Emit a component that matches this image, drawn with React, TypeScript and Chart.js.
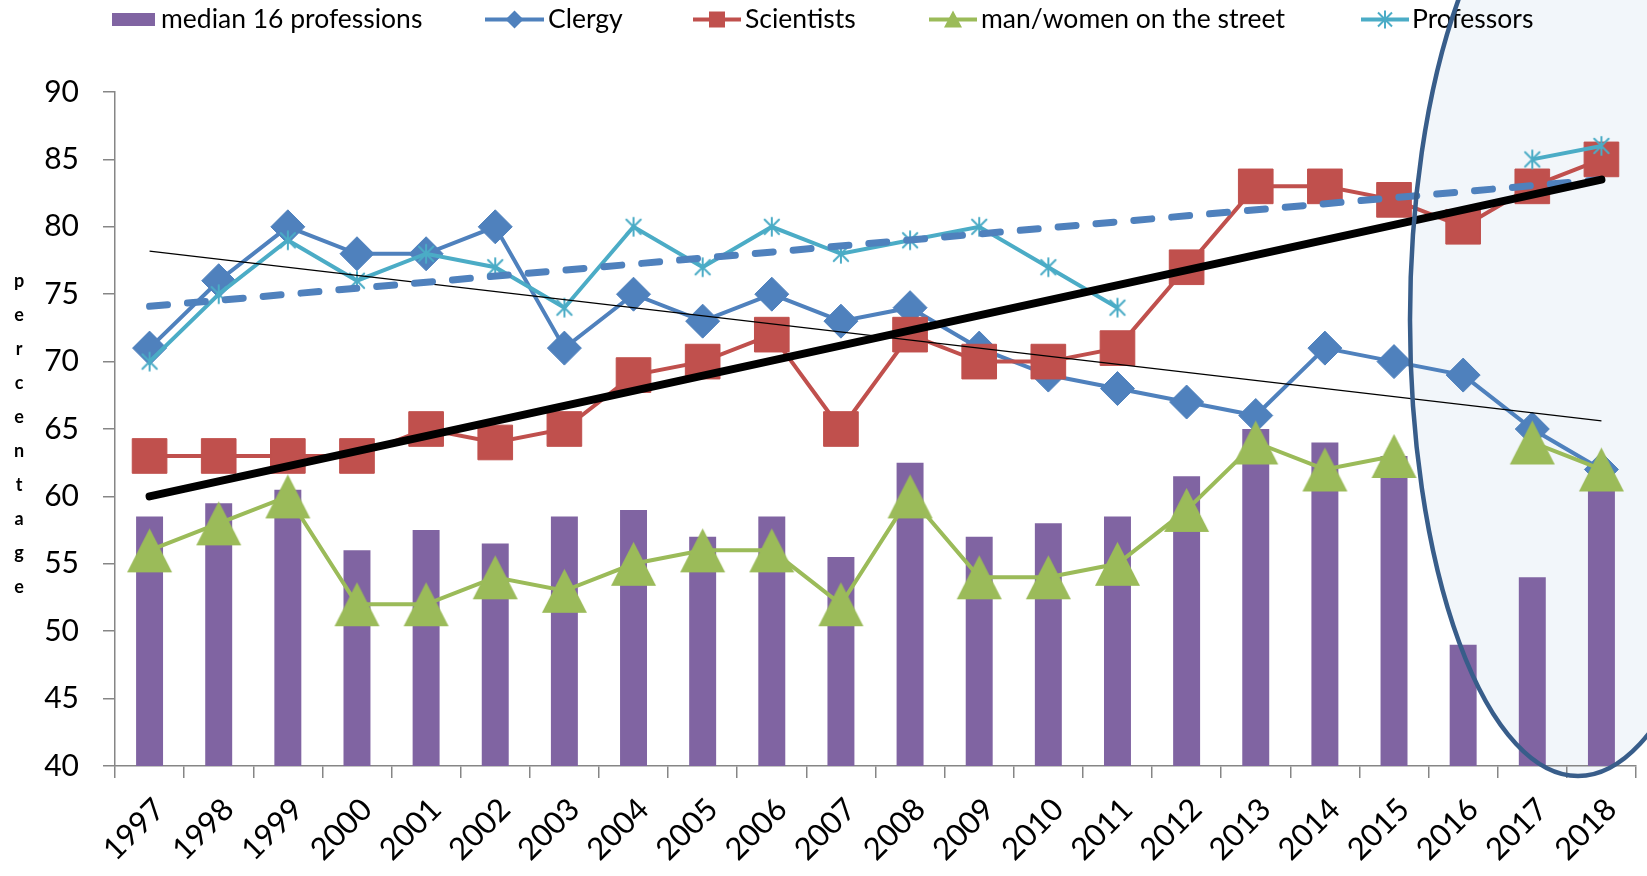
import React, { useEffect, useRef } from 'react';
import { Chart, registerables } from 'chart.js';

Chart.register(...registerables);

// ---------- data ----------
const years = ['1997', '1998', '1999', '2000', '2001', '2002', '2003', '2004', '2005', '2006', '2007',
  '2008', '2009', '2010', '2011', '2012', '2013', '2014', '2015', '2016', '2017', '2018'];

const median16 = [58.5, 59.5, 60.5, 56, 57.5, 56.5, 58.5, 59, 57, 58.5, 55.5, 62.5, 57, 58, 58.5, 61.5, 65, 64, 63, 49, 54, 61];
const clergy = [71, 76, 80, 78, 78, 80, 71, 75, 73, 75, 73, 74, 71, 69, 68, 67, 66, 71, 70, 69, 65, 62];
const scientists = [63, 63, 63, 63, 65, 64, 65, 69, 70, 72, 65, 72, 70, 70, 71, 77, 83, 83, 82, 80, 83, 85];
const street = [56, 58, 60, 52, 52, 54, 53, 55, 56, 56, 52, 60, 54, 54, 55, 59, 64, 62, 63, null, 64, 62];
const professors = [70, 75, 79, 76, 78, 77, 74, 80, 77, 80, 78, 79, 80, 77, 74, null, null, null, null, null, 85, 86];

// trend line end values (first year, last year)
const scientistsTrendEnds = [60.0, 83.5];
const professorsTrendEnds = [74.1, 83.5];
const clergyTrendEnds = [78.2, 65.6];

const seriesNames = ['median 16 professions', 'Clergy', 'Scientists', 'man/women on the street', 'Professors'];
const yAxisTitle = 'percentage';
const yMin = 40;
const yMax = 90;
const yStep = 5;

// ---------- styles ----------
const PURPLE = '#8064A2';
const BLUE = '#4F81BD';
const RED = '#C0504D';
const GREEN = '#9BBB59';
const CYAN = '#4BACC6';
const AXIS = '#868686';
const FONT = 'Lato, "Open Sans", sans-serif';

function endsToSeries(ends: number[]) {
  const arr: (number | null)[] = years.map(() => null);
  arr[0] = ends[0];
  arr[arr.length - 1] = ends[1];
  return arr;
}

function makeTriangle(w: number, h: number, color: string) {
  const c = document.createElement('canvas');
  c.width = w + 2;
  c.height = h + 2;
  const g = c.getContext('2d')!;
  g.fillStyle = color;
  g.beginPath();
  g.moveTo((w + 2) / 2, 1);
  g.lineTo(w + 1, h + 1);
  g.lineTo(1, h + 1);
  g.closePath();
  g.fill();
  return c;
}

function makeStar(s: number, color: string, lw: number) {
  const c = document.createElement('canvas');
  c.width = s + 4;
  c.height = s + 4;
  const g = c.getContext('2d')!;
  g.strokeStyle = color;
  g.lineWidth = lw;
  g.lineCap = 'round';
  const m = (s + 4) / 2;
  const r = s / 2;
  g.beginPath();
  g.moveTo(m, m - r); g.lineTo(m, m + r);
  g.moveTo(m - r * 0.8, m - r * 0.8); g.lineTo(m + r * 0.8, m + r * 0.8);
  g.moveTo(m + r * 0.8, m - r * 0.8); g.lineTo(m - r * 0.8, m + r * 0.8);
  g.stroke();
  return c;
}

export default function App() {
  const ref = useRef<HTMLCanvasElement>(null);

  useEffect(() => {
    const canvas = ref.current!;
    const tri = makeTriangle(45, 44, GREEN);
    const star = makeStar(18, CYAN, 2);

    const ellipse = { cx: 1578, cy: 320, rx: 168, ry: 456 };

    const overlay = {
      id: 'overlay',
      beforeDraw(chart: any) {
        const ctx = chart.ctx;
        ctx.save();
        ctx.fillStyle = '#F2F6FA';
        ctx.beginPath();
        ctx.ellipse(ellipse.cx, ellipse.cy, ellipse.rx, ellipse.ry, 0, 0, Math.PI * 2);
        ctx.fill();
        ctx.restore();
      },
      afterDraw(chart: any) {
        const ctx = chart.ctx;
        ctx.save();
        // legend
        const ly = 19.5;
        ctx.font = `26.5px ${FONT}`;
        ctx.textBaseline = 'middle';
        ctx.fillStyle = PURPLE;
        ctx.fillRect(112, 13, 43, 13);
        ctx.fillStyle = '#000';
        ctx.fillText(seriesNames[0], 161, ly);
        const items = [
          { x0: 485, x1: 544, color: BLUE, kind: 'diamond', tx: 548, label: seriesNames[1] },
          { x0: 693, x1: 741, color: RED, kind: 'square', tx: 745, label: seriesNames[2] },
          { x0: 929, x1: 977, color: GREEN, kind: 'triangle', tx: 981, label: seriesNames[3] },
          { x0: 1361, x1: 1409, color: CYAN, kind: 'star', tx: 1412, label: seriesNames[4] },
        ];
        for (const it of items) {
          ctx.strokeStyle = it.color;
          ctx.fillStyle = it.color;
          ctx.lineWidth = 4;
          ctx.beginPath();
          ctx.moveTo(it.x0, ly);
          ctx.lineTo(it.x1, ly);
          ctx.stroke();
          const mx = (it.x0 + it.x1) / 2;
          ctx.beginPath();
          if (it.kind === 'diamond') {
            ctx.moveTo(mx, ly - 9); ctx.lineTo(mx + 9, ly); ctx.lineTo(mx, ly + 9); ctx.lineTo(mx - 9, ly);
            ctx.closePath(); ctx.fill();
          } else if (it.kind === 'square') {
            ctx.rect(mx - 8, ly - 8, 16, 16); ctx.fill();
          } else if (it.kind === 'triangle') {
            ctx.moveTo(mx, ly - 9); ctx.lineTo(mx + 9, ly + 8); ctx.lineTo(mx - 9, ly + 8);
            ctx.closePath(); ctx.fill();
          } else {
            ctx.lineWidth = 2;
            ctx.moveTo(mx, ly - 9); ctx.lineTo(mx, ly + 9);
            ctx.moveTo(mx - 7, ly - 7); ctx.lineTo(mx + 7, ly + 7);
            ctx.moveTo(mx + 7, ly - 7); ctx.lineTo(mx - 7, ly + 7);
            ctx.stroke();
          }
          ctx.fillStyle = '#000';
          ctx.fillText(it.label, it.tx, ly);
        }
        // vertical axis title, stacked letters
        ctx.font = `bold 18px ${FONT}`;
        ctx.textAlign = 'center';
        ctx.textBaseline = 'middle';
        ctx.fillStyle = '#000';
        const letters = yAxisTitle.split('');
        letters.forEach((ch, i) => ctx.fillText(ch, 19, 281 + i * 34));
        // ellipse outline
        ctx.strokeStyle = '#385D8A';
        ctx.lineWidth = 4.5;
        ctx.beginPath();
        ctx.ellipse(ellipse.cx, ellipse.cy, ellipse.rx, ellipse.ry, 0, 0, Math.PI * 2);
        ctx.stroke();
        ctx.restore();
      },
    };

    const lineBase = {
      type: 'line' as const,
      fill: false,
      tension: 0,
      borderWidth: 4,
      pointBorderWidth: 1,
    };

    const chart = new Chart(canvas, {
      type: 'bar',
      data: {
        labels: years,
        datasets: [
          {
            ...lineBase, label: 'sci trend', data: endsToSeries(scientistsTrendEnds), borderColor: '#000',
            borderWidth: 8, borderCapStyle: 'round', pointRadius: 0, spanGaps: true, order: 0,
          } as any,
          {
            ...lineBase, label: 'prof trend', data: endsToSeries(professorsTrendEnds), borderColor: BLUE,
            borderWidth: 7, borderCapStyle: 'round', borderDash: [18, 20], pointRadius: 0, spanGaps: true, order: 0,
          } as any,
          {
            ...lineBase, label: 'clergy trend', data: endsToSeries(clergyTrendEnds), borderColor: '#000',
            borderWidth: 1.2, pointRadius: 0, spanGaps: true, order: 0,
          } as any,
          {
            ...lineBase, label: seriesNames[4], data: professors, borderColor: CYAN, backgroundColor: CYAN,
            pointStyle: star, pointRadius: 9, order: 1,
          } as any,
          {
            ...lineBase, label: seriesNames[3], data: street, borderColor: GREEN, backgroundColor: GREEN,
            pointStyle: tri, pointRadius: 22, order: 2,
          } as any,
          {
            ...lineBase, label: seriesNames[2], data: scientists, borderColor: RED, backgroundColor: RED,
            pointStyle: 'rect', pointRadius: 24.5, order: 3,
          } as any,
          {
            ...lineBase, label: seriesNames[1], data: clergy, borderColor: BLUE, backgroundColor: BLUE,
            pointStyle: 'rectRot', pointRadius: 17, order: 4,
          } as any,
          {
            type: 'bar', label: seriesNames[0], data: median16, backgroundColor: PURPLE,
            borderWidth: 0, barPercentage: 0.39, categoryPercentage: 1, order: 5,
          } as any,
        ],
      },
      options: {
        responsive: false,
        animation: false,
        events: [],
        layout: { autoPadding: false, padding: { top: 92, right: 11, left: 0, bottom: 0 } },
        plugins: { legend: { display: false }, tooltip: { enabled: false }, title: { display: false } },
        scales: {
          x: {
            offset: true,
            grid: { drawOnChartArea: false, drawTicks: true, tickLength: 12, color: AXIS, lineWidth: 1.5, offset: true },
            border: { color: AXIS, width: 1.5 },
            ticks: {
              font: { family: FONT, size: 31 }, color: '#000', minRotation: 45, maxRotation: 45,
              autoSkip: false, padding: 13, labelOffset: 10,
            },
            afterFit: (s: any) => { s.height = 110; s.paddingLeft = 0; s.paddingRight = 0; },
          },
          y: {
            min: yMin,
            max: yMax,
            grid: { drawOnChartArea: false, drawTicks: true, tickLength: 12, color: AXIS, lineWidth: 1.5 },
            border: { color: AXIS, width: 1.5 },
            ticks: { stepSize: yStep, font: { family: FONT, size: 30 }, color: '#000', padding: 24 },
            afterFit: (s: any) => { s.width = 115; s.paddingTop = 0; s.paddingBottom = 0; },
          },
        },
      } as any,
      plugins: [overlay],
    });
    return () => chart.destroy();
  }, []);

  return (
    <div style={{ position: 'fixed', left: 0, top: 0, width: 1647, height: 876, background: '#fff' }}>
      <canvas ref={ref} width={1647} height={876} style={{ display: 'block', width: 1647, height: 876 }} />
    </div>
  );
}
